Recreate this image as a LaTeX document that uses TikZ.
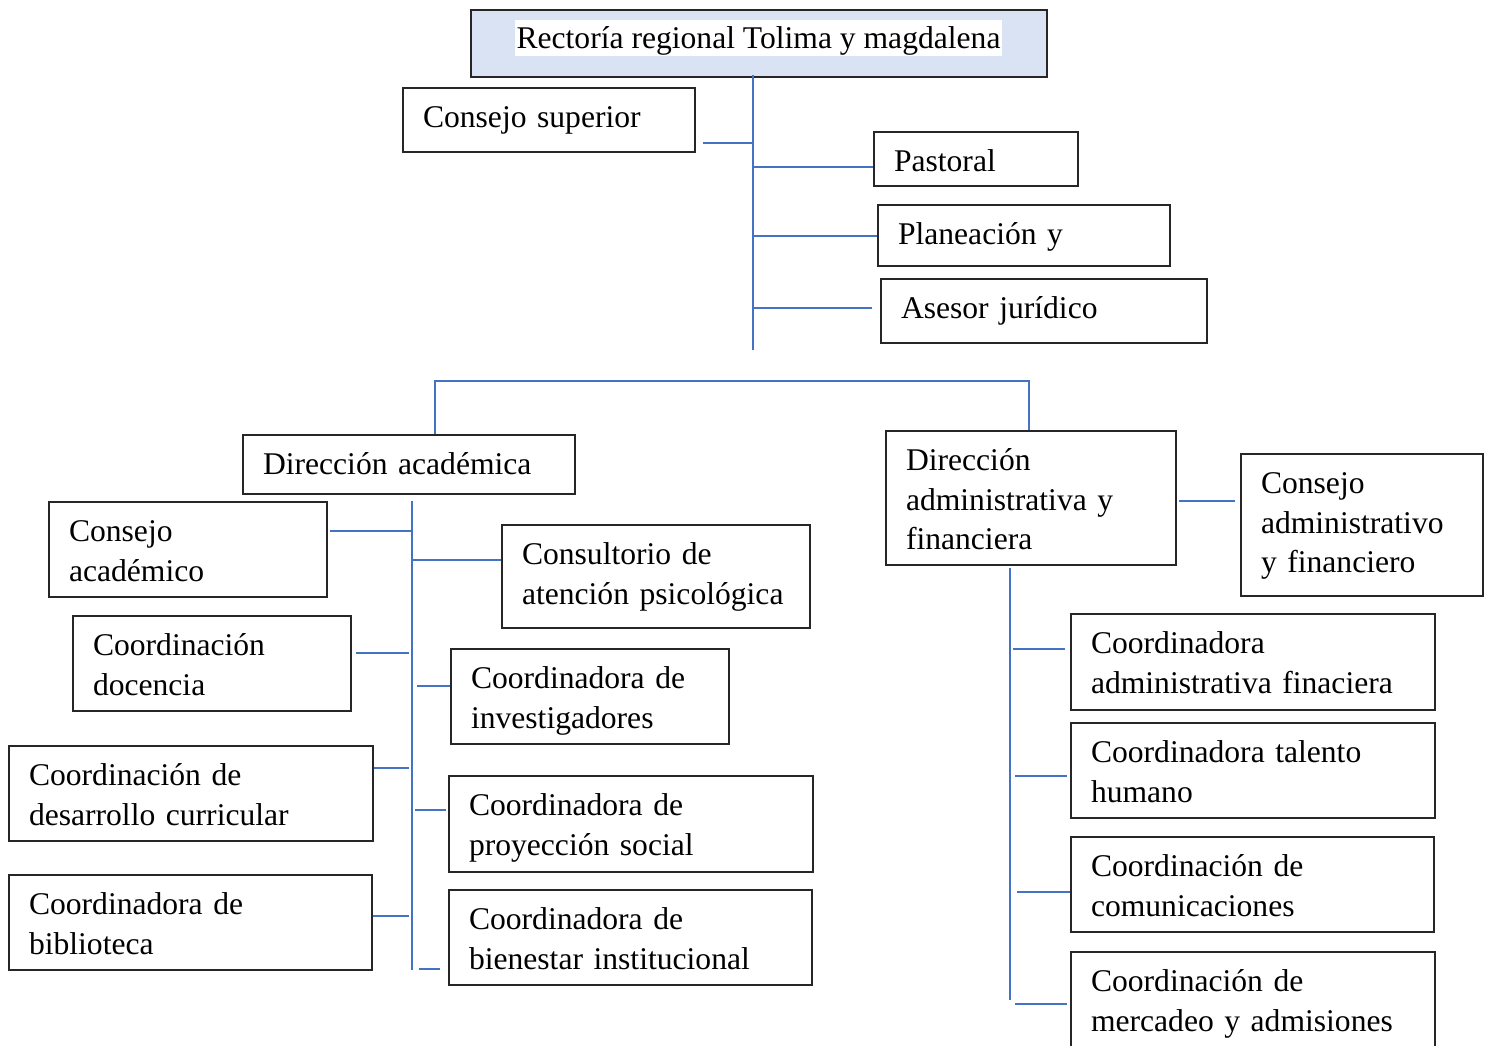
\documentclass[tikz,border=0pt]{standalone}
\usepackage{fontspec}
\setmainfont{Liberation Serif}
\usepackage{tikz}
\usepackage{xcolor}
\definecolor{linkblue}{HTML}{4472C4}
\definecolor{topfill}{HTML}{DAE3F3}
\definecolor{boxline}{HTML}{262626}

\begin{document}
\begin{tikzpicture}[x=0.5pt,y=-0.5pt,
		every node/.style={font=\fontsize{15.8}{19.75}\selectfont},
		orgbox/.style 2 args={draw=boxline,line width=0.75pt,align=left,inner xsep=10pt,inner ysep=0pt,text width=#1,text height=19.75pt,text depth=#2},
		link/.style={draw=linkblue,line width=0.65pt}]
		\useasboundingbox (0,0) rectangle (1492,1045);
		
		\node[draw=boxline,line width=0.75pt,fill=topfill,minimum width=288pt,minimum height=33.5pt,inner sep=0pt] (rector) at (759,43.5) {};
		\node[fill=white,inner xsep=1pt,inner ysep=0pt,text height=14pt,text depth=4pt] (rectortxt) at (758.5,38) {Rectoría regional Tolima y magdalena};
		
		\node[orgbox={126pt}{12.25pt}] (consup) at (549,120) {Consejo superior};
		\node[orgbox={82pt}{7.25pt}] (pastoral) at (976,159) {Pastoral};
		\node[orgbox={126pt}{10.75pt}] (planea) at (1024,235.5) {Planeación y};
		\node[orgbox={143pt}{12.25pt}] (asesor) at (1044,311) {Asesor jurídico};
		
		\node[orgbox={146pt}{9.75pt}] (diracad) at (409,464.5) {Dirección académica};
		\node[orgbox={125pt}{47.25pt}] (diradm) at (1031,498) {Dirección\\ administrativa y\\ financiera};
		\node[orgbox={101pt}{51.25pt}] (conadm) at (1362,525) {Consejo\\ administrativo\\ y financiero};
		
		\node[orgbox={119pt}{27.75pt}] (conacad) at (188,549.5) {Consejo\\ académico};
		\node[orgbox={134pt}{31.75pt}] (consult) at (656,576.5) {Consultorio de\\ atención psicológica};
		\node[orgbox={119pt}{27.75pt}] (docencia) at (212,663.5) {Coordinación\\ docencia};
		\node[orgbox={119pt}{27.75pt}] (investig) at (590,696.5) {Coordinadora de\\ investigadores};
		\node[orgbox={162pt}{27.75pt}] (curric) at (191,793.5) {Coordinación de\\ desarrollo curricular};
		\node[orgbox={162pt}{28.25pt}] (proyec) at (631,824) {Coordinadora de\\ proyección social};
		\node[orgbox={161.5pt}{27.75pt}] (biblio) at (190.5,922.5) {Coordinadora de\\ biblioteca};
		\node[orgbox={161.5pt}{27.75pt}] (bienestar) at (630.5,937.5) {Coordinadora de\\ bienestar institucional};
		
		\node[orgbox={162pt}{28.25pt}] (coadmfin) at (1253,662) {Coordinadora\\ administrativa finaciera};
		\node[orgbox={162pt}{27.75pt}] (talento) at (1253,770.5) {Coordinadora talento\\ humano};
		\node[orgbox={161.5pt}{27.75pt}] (comunic) at (1252.5,884.5) {Coordinación de\\ comunicaciones};
		\node[orgbox={162pt}{30.25pt}] (mercadeo) at (1253,1002) {Coordinación de\\ mercadeo y admisiones};
		
		\coordinate (top) at (753,75);
		\coordinate (topend) at (753,350);
		\coordinate (t1) at (753,143);
		\coordinate (t2) at (753,167);
		\coordinate (t3) at (753,236);
		\coordinate (t4) at (753,308);
		\draw[link] (top) -- (topend);
		\draw[link,shorten <=3.5pt] (consup.east |- t1) -- (t1);
		\draw[link] (t2) -- (pastoral.west |- t2);
		\draw[link] (t3) -- (planea.west |- t3);
		\draw[link,shorten >=4pt] (t4) -- (asesor.west |- t4);
		
		\coordinate (xl) at (435,381);
		\coordinate (xr) at (1029,381);
		\draw[link] (diracad.north -| xl) -- (xl) -- (xr) -- (diradm.north -| xr);
		
		\coordinate (la) at (412,501);
		\coordinate (lb) at (412,970);
		\coordinate (l1) at (412,531);
		\coordinate (l2) at (412,560);
		\coordinate (l3) at (412,653);
		\coordinate (l4) at (412,686);
		\coordinate (l5) at (412,768);
		\coordinate (l6) at (412,810);
		\coordinate (l7) at (412,916);
		\coordinate (l8) at (412,969);
		\draw[link] (la) -- (lb);
		\draw[link,shorten <=1pt] (conacad.east |- l1) -- (l1);
		\draw[link] (l2) -- (consult.west |- l2);
		\draw[link,shorten <=2pt,shorten >=1.5pt] (docencia.east |- l3) -- (l3);
		\draw[link,shorten <=2.5pt] (l4) -- (investig.west |- l4);
		\draw[link,shorten >=1.5pt] (curric.east |- l5) -- (l5);
		\draw[link,shorten <=1.5pt,shorten >=1pt] (l6) -- (proyec.west |- l6);
		\draw[link,shorten >=1.5pt] (biblio.east |- l7) -- (l7);
		\draw[link,shorten <=3.5pt,shorten >=4pt] (l8) -- (bienestar.west |- l8);
		
		\coordinate (ra) at (1010,568);
		\coordinate (rb) at (1010,1000);
		\coordinate (r1) at (1010,649);
		\coordinate (r2) at (1010,776);
		\coordinate (r3) at (1010,892);
		\coordinate (r4) at (1010,1004);
		\coordinate (c1) at (1177,501);
		\draw[link] (ra) -- (rb);
		\draw[link,shorten <=1.5pt,shorten >=2.5pt] (r1) -- (coadmfin.west |- r1);
		\draw[link,shorten <=2.5pt,shorten >=1.5pt] (r2) -- (talento.west |- r2);
		\draw[link,shorten <=3.5pt] (r3) -- (comunic.west |- r3);
		\draw[link,shorten <=2.5pt,shorten >=1.5pt] (r4) -- (mercadeo.west |- r4);
		\draw[link,shorten <=1pt,shorten >=2.5pt] (diradm.east |- c1) -- (conadm.west |- c1);
	\end{tikzpicture}
\end{document}
